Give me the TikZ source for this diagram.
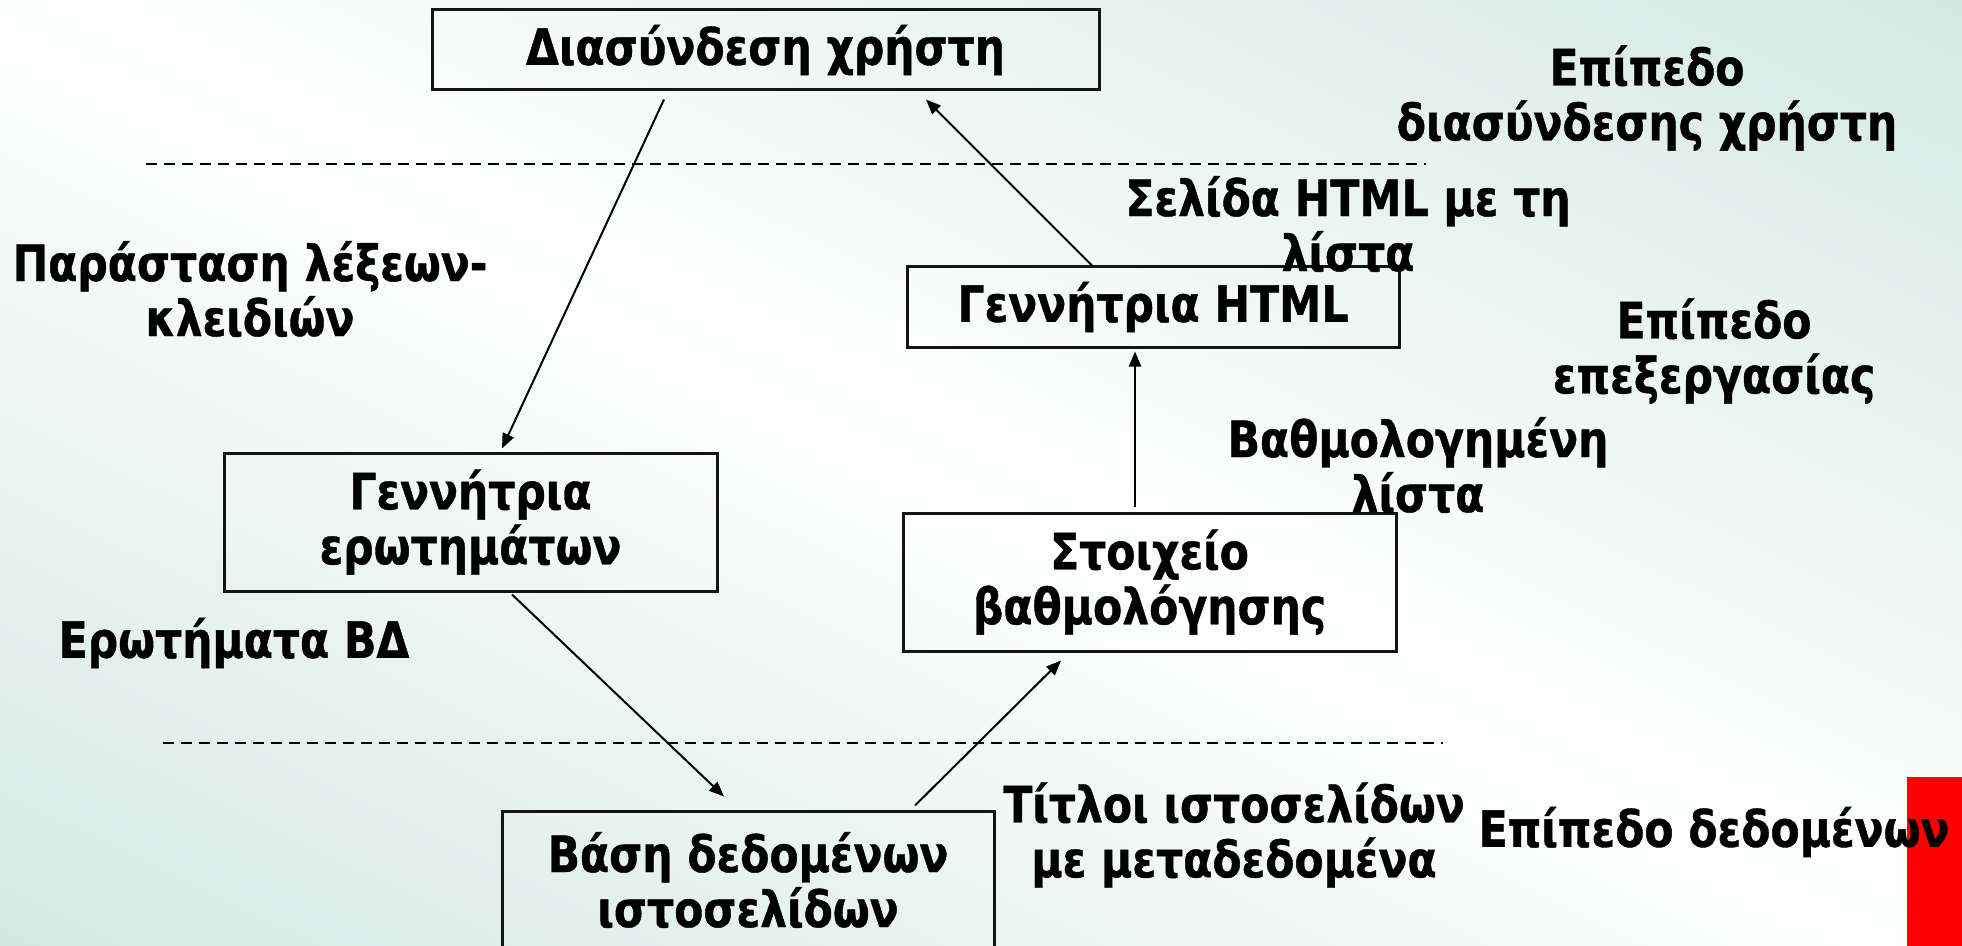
\documentclass[tikz,border=0pt]{standalone}
\usepackage{fontspec}
\setmainfont{DejaVu Sans}[FakeStretch=0.85, BoldFeatures={FakeBold=0.8}]
\usetikzlibrary{arrows.meta,calc}

\definecolor{mint}{RGB}{211,233,226}
\definecolor{boxline}{RGB}{20,20,20}

\tikzset{
  txt/.style={font=\bfseries\fontsize{25pt}{27.5pt}\selectfont, align=center, inner sep=0pt},
  block/.style={txt, draw=boxline, line width=1.5pt, minimum height=#1, anchor=center},
  block/.default=40pt,
  arr/.style={line width=1pt, -{Triangle[length=7.5pt,width=6pt]}},
  level/.style={line width=1.2pt, dash pattern=on 5.5pt off 3.5pt}
}

\begin{document}
\begin{tikzpicture}[x=0.5pt,y=-0.5pt]
  \useasboundingbox (0,0) rectangle (1962,946);

  % diagonal background: white along the main diagonal, mint towards the two far corners
  \begin{scope}
    \clip (0,0) rectangle (1962,946);
    \foreach \i in {0,...,99} {
      \pgfmathsetmacro{\da}{-852+\i*17.04}
      \pgfmathsetmacro{\db}{\da+19}
      \pgfmathsetmacro{\p}{min(100,abs(\da+8.52)/852*100)}
      \pgfmathsetmacro{\xa}{981-1300*0.9008-\da*0.4343}
      \pgfmathsetmacro{\ya}{473-1300*0.4343+\da*0.9008}
      \pgfmathsetmacro{\xb}{981+1300*0.9008-\da*0.4343}
      \pgfmathsetmacro{\yb}{473+1300*0.4343+\da*0.9008}
      \pgfmathsetmacro{\xc}{981+1300*0.9008-\db*0.4343}
      \pgfmathsetmacro{\yc}{473+1300*0.4343+\db*0.9008}
      \pgfmathsetmacro{\xd}{981-1300*0.9008-\db*0.4343}
      \pgfmathsetmacro{\yd}{473-1300*0.4343+\db*0.9008}
      \fill[mint!\p!white] (\xa,\ya) -- (\xb,\yb) -- (\xc,\yc) -- (\xd,\yd) -- cycle;
    }
  \end{scope}

  \fill[red] (1907,777) rectangle (1962,946);

  % level separators
  \coordinate (l1a) at (146,164);
  \coordinate (l1b) at (1426,164);
  \coordinate (l2a) at (163,743);
  \coordinate (l2b) at (1443,743);
  \draw[level] (l1a) -- (l1b);
  \draw[level] (l2a) -- (l2b);

  % components
  \node[block=40pt, minimum width=333.5pt] (user) at (765.5,50) {Διασύνδεση χρήστη};
  \node[block=40pt, minimum width=246pt] (html) at (1153,307) {Γεννήτρια HTML};
  \node[block=69pt, minimum width=246.5pt] (qgen) at (470.5,522) {Γεννήτρια\\ερωτημάτων};
  \node[block=69pt, minimum width=246.5pt] (rank) at (1149.5,582) {Στοιχείο\\βαθμολόγησης};
  \node[block=69pt, minimum width=246pt] (db) at (748,880) {Βάση δεδομένων\\ιστοσελίδων};

  % layer names
  \node[txt] (lvlui) at (1647,98) {Επίπεδο\\διασύνδεσης χρήστη};
  \node[txt] (lvlproc) at (1714,351) {Επίπεδο\\επεξεργασίας};
  \node[txt] (lvldata) at (1714,832) {Επίπεδο δεδομένων};

  % flow labels
  \node[txt] (kw) at (250,289) {Παράσταση λέξεων-\\κλειδιών};
  \node[txt] (page) at (1348,224) {Σελίδα HTML με τη\\λίστα};
  \node[txt] (ranked) at (1418,465) {Βαθμολογημένη\\λίστα};
  \node[txt] (dbq) at (234,643) {Ερωτήματα ΒΔ};
  \node[txt] (titles) at (1234,835) {Τίτλοι ιστοσελίδων\\με μεταδεδομένα};

  % data flow
  \draw[arr] ($(user.south)+(-101.5,8)$) -- ($(qgen.north)+(31.5,-3)$);
  \draw[arr] ($(html.north)+(-61,0)$) -- ($(user.south)+(160.5,8)$);
  \coordinate (a3) at ($(html.south)+(-18,0)$);
  \draw[arr] ($(a3 |- rank.north)+(0,-5)$) -- ($(a3)+(0,3)$);
  \draw[arr] ($(qgen.south)+(41.5,2)$) -- ($(db.north)+(-24,-13)$);
  \draw[arr] ($(db.north)+(167,-4)$) -- ($(rank.south)+(-88.5,8)$);
\end{tikzpicture}
\end{document}
